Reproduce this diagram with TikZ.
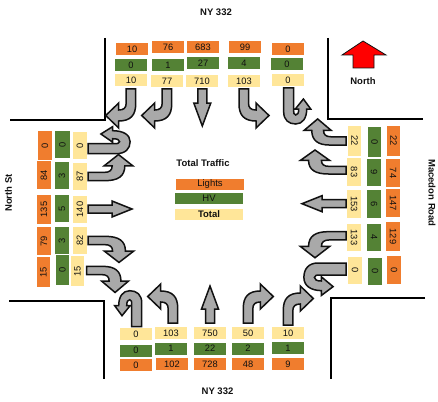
\documentclass[tikz,border=0pt]{standalone}
\usepackage{fontspec}
\setmainfont{Liberation Sans}
\usetikzlibrary{positioning}
\definecolor{tmcLights}{HTML}{F07D2E}
\definecolor{tmcHv}{HTML}{548235}
\definecolor{tmcTotal}{HTML}{FFE699}
\definecolor{tmcArrow}{HTML}{A9A9A9}
\definecolor{tmcEdge}{HTML}{111111}
\tikzset{
  tmcbox/.style={inner sep=0pt,font=\fontsize{9.3}{10}\selectfont,text=tmcEdge},
  lightsbox/.style={tmcbox,fill=tmcLights},
  hvbox/.style={tmcbox,fill=tmcHv},
  totalbox/.style={tmcbox,fill=tmcTotal},
  nsbox/.style={minimum width=32pt,minimum height=12pt},
  roadlbl/.style={inner sep=0pt,text=tmcEdge,font=\fontsize{9.5}{10}\selectfont\bfseries},
  curb/.style={draw=black,line width=1.6pt},
  movearrow/.style={draw=tmcEdge,fill=tmcArrow,line width=1.5pt},
  pics/turnarrow/.style={code={
    \draw[movearrow] (-4.5,0) -- (-4.5,14) .. controls (-4.5,19) and (-7,21) .. (-12,21) -- (-12,14) -- (-25,26.5)
      -- (-12,39) -- (-12,32) .. controls (0,32) and (5,26) .. (5,15) -- (5,0) -- cycle;}},
  pics/uarrow/.style={code={
    \draw[movearrow] (-5,0) -- (-5,24) .. controls (-5,32) and (0,36) .. (7,36) .. controls (14,36) and (18,30) .. (18,21)
      -- (22,21) -- (14.7,11) -- (6.6,21) -- (10,21) .. controls (10,25) and (9,27) .. (7,27)
      .. controls (5,27) and (5,25) .. (5,21) -- (5,0) -- cycle;}},
  pics/thruns/.style={code={
    \draw[movearrow] (-4.5,0) -- (-4.5,14) -- (-8.5,14) -- (0,37) -- (8.5,14) -- (4.5,14) -- (4.5,0) -- cycle;}},
  pics/thruew/.style={code={
    \draw[movearrow] (-4,0) -- (-4,24) -- (-8,24) -- (0,44) -- (8,24) -- (4,24) -- (4,0) -- cycle;}},
}
\begin{document}
\begin{tikzpicture}[x=1pt,y=-1pt]
  \useasboundingbox (0,0) rectangle (438,401);

  % curbs
  \draw[curb] (105,38) -- (105,120) -- (10,120);
  \draw[curb] (328,38) -- (328,119) -- (423,119);
  \draw[curb] (9,301) -- (104,301) -- (104,379);
  \draw[curb] (425,298) -- (331,298) -- (331,379);

  % counts, north and south legs
  \foreach \nm/\px/\py/\val/\sty in {
    nl1/132/49/10/lightsbox, nl2/168/47.5/76/lightsbox, nl3/203/47.5/683/lightsbox, nl4/245/47.5/99/lightsbox, nl5/288/49/0/lightsbox,
    nh1/131/65/0/hvbox, nh2/168/65/1/hvbox, nh3/203/63/27/hvbox, nh4/244/63/4/hvbox, nh5/287/64/0/hvbox,
    nt1/131/80/10/totalbox, nt2/167/81/77/totalbox, nt3/202/81/710/totalbox, nt4/244/81/103/totalbox, nt5/288/80/0/totalbox,
    st1/136/334/0/totalbox, st2/171/333/103/totalbox, st3/210/333/750/totalbox, st4/248/333/50/totalbox, st5/288/333/10/totalbox,
    sh1/136/350.5/0/hvbox, sh2/171/348.5/1/hvbox, sh3/210/348.5/22/hvbox, sh4/248/348.5/2/hvbox, sh5/288/348/1/hvbox,
    sl1/136/365/0/lightsbox, sl2/172/364/102/lightsbox, sl3/210/364/728/lightsbox, sl4/248/364/48/lightsbox, sl5/288/364/9/lightsbox}
    {\node[\sty,nsbox] (\nm) at (\px,\py) {\val};}

  % counts, west leg
  \foreach \nm/\px/\py/\len/\thk/\val/\sty in {
    wl1/45/145.5/29/14/0/lightsbox, wl2/44/175/28/14/84/lightsbox, wl3/44/209.5/29/14/135/lightsbox, wl4/44/241/28/14/79/lightsbox, wl5/43.5/272/30/13/15/lightsbox,
    wh1/62.5/144.5/27/15/0/hvbox, wh2/62/175.5/27/14/3/hvbox, wh3/62/208.5/27/14/5/hvbox, wh4/62/240.5/27/14/3/hvbox, wh5/62.5/270/30/13/0/hvbox,
    wt1/80/145.5/27/14/0/totalbox, wt2/80/176.5/27/14/87/totalbox, wt3/80/209.5/27/14/140/totalbox, wt4/80/240.5/27/14/82/totalbox, wt5/77.5/271/30/13/15/totalbox}
    {\node[\sty,rotate=90,minimum width=\len pt,minimum height=\thk pt] (\nm) at (\px,\py) {\val};}

  % counts, east leg
  \foreach \nm/\px/\py/\len/\thk/\val/\sty in {
    et1/354.5/141/30/13/22/totalbox, et2/354/172/28/14/83/totalbox, et3/354/204/28/14/153/totalbox, et4/354/237.5/27/14/133/totalbox, et5/355/270.5/27/14/0/totalbox,
    eh1/374.5/142/30/13/0/hvbox, eh2/374/172.5/27/14/9/hvbox, eh3/374/204/28/14/6/hvbox, eh4/374/237.5/27/14/4/hvbox, eh5/375/271.5/27/14/0/hvbox,
    el1/393.5/141/30/13/22/lightsbox, el2/393/173/28/14/74/lightsbox, el3/393/203/28/14/147/lightsbox, el4/393/236.5/29/14/129/lightsbox, el5/394/270/28/14/0/lightsbox}
    {\node[\sty,rotate=-90,minimum width=\len pt,minimum height=\thk pt] (\nm) at (\px,\py) {\val};}

  % turning movements
  \foreach \px/\py/\rot/\sx/\sy in {
    130.7/89/0/1/1, 166.7/89/0/1/1, 244/89/0/-1/1,
    172.7/323/180/-1/1, 248.3/323/180/1/1, 288.3/325/180/1/1,
    88/176.3/90/-.87/1.15, 88/240.7/90/.87/1.17, 86.7/270.7/90/.87/1.07,
    346/140.7/-90/.87/1.07, 346/170/-90/.8/1.17, 346/236/-90/-.87/1.17}
    {\path (\px,\py) pic[rotate=\rot,xscale=\sx,yscale=\sy] {turnarrow};}

  % u-turns
  \foreach \px/\py/\rot/\sx/\sy in {
    288.7/88/0/1/1, 136.7/326.7/180/1/1,
    88/148.7/90/1/1.17, 346/269/-90/1.2/1.17}
    {\path (\px,\py) pic[rotate=\rot,xscale=\sx,yscale=\sy] {uarrow};}

  % through movements
  \path (202.3,89) pic {thruns};
  \path (210,323) pic[rotate=180] {thruns};
  \path (88,209) pic[rotate=90] {thruew};
  \path (346,203.7) pic[rotate=-90] {thruew};

  % legend
  \node[roadlbl] (legendhead) at (203,163.5) {Total Traffic};
  \node[lightsbox,minimum width=68pt,minimum height=11pt,font=\fontsize{9.5}{10}\selectfont] (legendlights) at (210,184.5) {Lights};
  \node[hvbox,minimum width=68pt,minimum height=11pt,font=\fontsize{9.5}{10}\selectfont] (legendhv) at (209,198.5) {HV};
  \node[totalbox,minimum width=68pt,minimum height=11pt,font=\fontsize{9.5}{10}\selectfont\bfseries] (legendtotal) at (209,214.5) {Total};

  % road names
  \node[roadlbl] (northleg) at (216,12.7) {NY 332};
  \node[roadlbl] (southleg) at (217.5,391.7) {NY 332};
  \node[roadlbl,rotate=90] (westleg) at (8.5,193) {North St};
  \node[roadlbl,rotate=-90] (eastleg) at (432,193) {Macedon Road};

  % north arrow
  \draw[draw=tmcEdge,fill=red,line width=.8pt] (363,41) -- (386,55) -- (374,55) -- (374,68) -- (353,68) -- (353,55) -- (342,55) -- cycle;
  \node[roadlbl] (northlbl) at (363,80.7) {North};
\end{tikzpicture}
\end{document}
